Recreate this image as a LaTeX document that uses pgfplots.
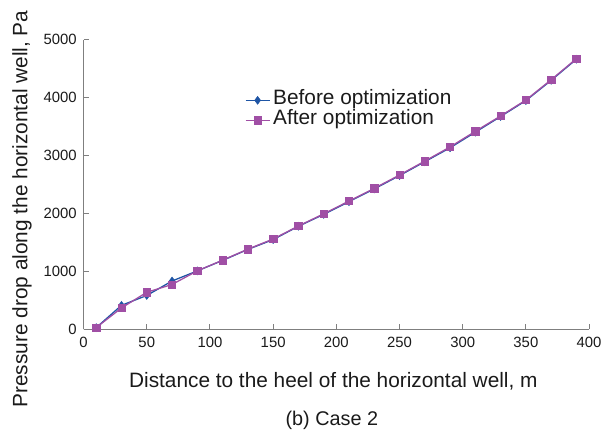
\documentclass[border=0pt]{standalone}
\usepackage{pgfplots}
\pgfplotsset{compat=1.18}
\usepackage{fontspec}
\setmainfont{Liberation Sans}
\definecolor{bblue}{HTML}{1F55A5}
\definecolor{ppurple}{HTML}{A04FA5}
\definecolor{spine}{HTML}{7F7F7F}
\definecolor{txt}{HTML}{1A1A1A}
\begin{document}
\begin{tikzpicture}[x=1bp,y=1bp]
\useasboundingbox (-84bp,-101bp) rectangle (522bp,331bp);
\begin{axis}[
  at={(0bp,0bp)}, anchor=south west,
  scale only axis,
  width=508bp, height=291bp,
  xmin=0, xmax=400, ymin=0, ymax=5000,
  axis x line=bottom, axis y line=left,
  axis line style={-, draw=spine, line width=1.2bp},
  every tick/.style={draw=spine, line width=1bp},
  tick align=inside,
  major tick length=5bp,
  xtick={0,50,...,400}, ytick={0,1000,...,5000},
  /pgf/number format/assume math mode=true,
  /pgf/number format/1000 sep={},
  tick label style={font=\fontsize{15}{17}\selectfont, text=txt},
  xticklabel style={yshift=-4.5bp},
  yticklabel style={xshift=-3.5bp},
  legend style={draw=none, fill=none, at={(0.319,0.826)}, anchor=north west,
     font=\fontsize{21}{22}\selectfont, text=txt,
     nodes={inner sep=0pt, text height=14bp, text depth=6bp},
     row sep=0pt, column sep=3bp, inner sep=0pt},
  legend cell align=left,
  legend image code/.code={%
    \draw[mark repeat=2, mark phase=2, #1] plot coordinates {(0bp,0bp) (12bp,0bp) (24bp,0bp)};},
  clip=false,
]
\addplot[color=bblue, line width=1.3bp, mark=diamond*, mark size=4bp, mark options={fill=bblue, line width=0.5bp}] coordinates {
(10,30) (30,415) (50,585) (70,835) (90,1010) (110,1190) (130,1380) (150,1550)
(170,1780) (190,1985) (210,2205) (230,2425) (250,2655) (270,2895) (290,3135)
(310,3405) (330,3675) (350,3950) (370,4300) (390,4665)};
\addlegendentry{Before optimization}
\addplot[color=ppurple, line width=1.3bp, mark=square*, mark size=3.7bp, mark options={fill=ppurple, line width=0.6bp}] coordinates {
(10,30) (30,370) (50,640) (70,775) (90,1010) (110,1195) (130,1385) (150,1560)
(170,1785) (190,1995) (210,2215) (230,2435) (250,2665) (270,2905) (290,3150)
(310,3420) (330,3685) (350,3960) (370,4310) (390,4675)};
\addlegendentry{After optimization}
\end{axis}
\node[font=\fontsize{21}{22}\selectfont, text=txt] at (251bp,-52bp) {Distance to the heel of the horizontal well, m};
\node[font=\fontsize{21}{22}\selectfont, text=txt, rotate=90] at (-62bp,121bp) {Pressure drop along the horizontal well, Pa};
\node[font=\fontsize{20}{22}\selectfont, text=txt] at (249.5bp,-91bp) {(b) Case 2};
\end{tikzpicture}
\end{document}
